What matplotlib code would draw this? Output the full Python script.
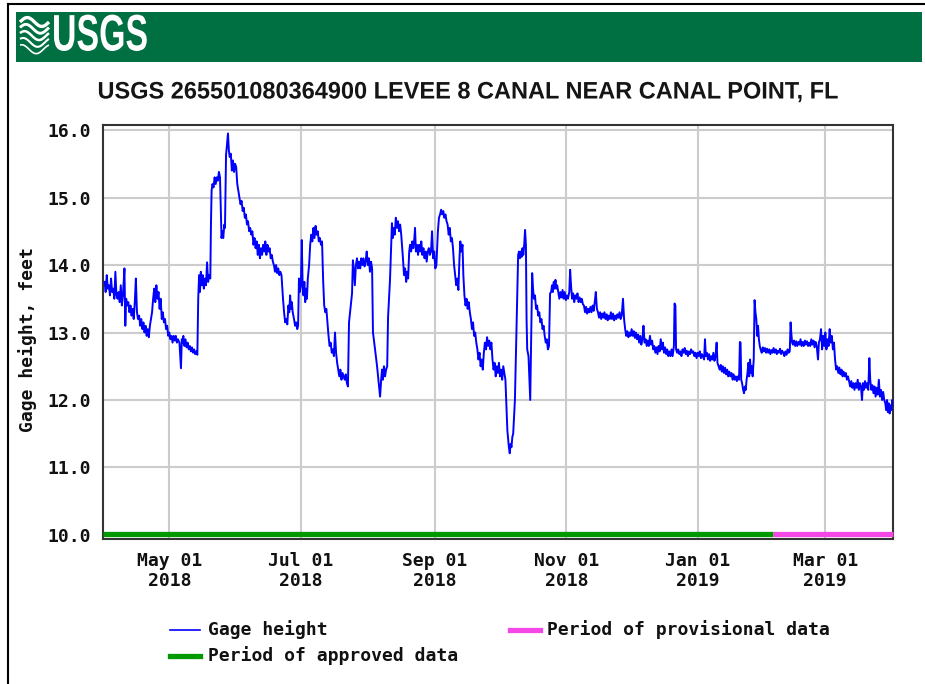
import matplotlib
matplotlib.use("Agg")
import matplotlib.pyplot as plt
from matplotlib.lines import Line2D
from matplotlib.patches import Rectangle
from matplotlib.patheffects import AbstractPathEffect
from matplotlib.transforms import Affine2D
import numpy as np
import pandas as pd

# ---------------- data ----------------
start_date = "2018-04-01"
# (days since start_date, gage height in feet)
gage_points = [
    (0, 13.75), (0.5, 13.6), (1, 13.85), (1.5, 13.65), (2, 13.7), (2.5, 13.55), (3, 13.8), (3.5, 13.6),
    (4, 13.65), (4.5, 13.5), (5, 13.9), (5.5, 13.55), (6, 13.5), (6.5, 13.6), (7, 13.45), (7.5, 13.7),
    (8, 13.4), (8.5, 13.55), (9.2, 13.95), (9.6, 13.1), (10, 13.5), (10.5, 13.4), (11, 13.45), (11.5, 13.3),
    (12, 13.4), (12.5, 13.25), (13, 13.35), (13.5, 13.2), (14, 13.45), (14.5, 13.8), (15, 13.3), (15.5, 13.2),
    (16, 13.25), (16.5, 13.1), (17, 13.2), (17.5, 13.05), (18, 13.15), (18.5, 13.0), (19, 13.1), (19.5, 12.95),
    (20, 13.05), (20.5, 12.93), (21, 13.1), (22, 13.3), (22.5, 13.5), (23, 13.65), (23.5, 13.45), (24, 13.7),
    (24.5, 13.5), (25, 13.6), (25.5, 13.35), (26, 13.5), (26.5, 13.2), (27, 13.3), (27.5, 13.15), (28, 13.2),
    (28.5, 13.05), (29, 13.1), (29.5, 12.95), (30, 13.0), (30.5, 12.9), (31, 12.95), (31.5, 12.85), (32, 12.95),
    (32.5, 12.88), (33, 12.95), (33.5, 12.85), (34, 12.9), (34.7, 12.85), (35.4, 12.47), (35.8, 12.9), (36, 12.85),
    (36.5, 12.95), (37, 12.8), (37.5, 12.9), (38, 12.78), (38.5, 12.85), (39, 12.75), (39.5, 12.8), (40, 12.72),
    (40.5, 12.78), (41, 12.7), (41.5, 12.75), (42, 12.68), (42.5, 12.72), (43, 12.67), (43.4, 13.5), (43.8, 13.85),
    (44.2, 13.6), (44.6, 13.9), (45, 13.7), (45.5, 13.85), (46, 13.65), (46.5, 13.8), (47, 13.7), (47.5, 14.04),
    (48, 13.75), (48.5, 13.85), (49, 13.8), (49.3, 14.6), (49.6, 15.1), (50, 15.2), (50.5, 15.15), (51, 15.3),
    (51.5, 15.2), (52, 15.3), (52.5, 15.25), (53, 15.38), (53.5, 15.3), (53.9, 14.8), (54.2, 14.4), (54.6, 14.5),
    (55, 14.4), (55.5, 14.6), (55.8, 14.55), (56.3, 15.63), (57.2, 15.95), (57.6, 15.7), (58, 15.6), (58.5, 15.65),
    (59, 15.4), (59.5, 15.55), (60, 15.38), (60.5, 15.5), (61, 15.45), (61.5, 15.2), (62, 15.1), (62.5, 15.0),
    (63, 14.9), (63.5, 14.95), (64, 14.8), (64.5, 14.85), (65, 14.7), (65.5, 14.75), (66, 14.6), (66.5, 14.65),
    (67, 14.5), (67.5, 14.55), (68, 14.45), (68.5, 14.5), (69, 14.3), (69.5, 14.4), (70, 14.25), (70.5, 14.35),
    (71, 14.15), (71.5, 14.3), (72, 14.1), (72.5, 14.25), (73, 14.15), (73.5, 14.3), (74, 14.2), (74.5, 14.35),
    (75, 14.15), (75.5, 14.3), (76, 14.2), (76.5, 14.25), (77, 14.1), (77.5, 14.15), (78, 14.05), (78.5, 14.0),
    (79, 13.9), (79.5, 14.0), (80, 13.88), (80.5, 13.95), (81, 13.85), (81.5, 13.9), (82, 13.85), (82.7, 13.5),
    (83.2, 13.3), (83.7, 13.15), (84.2, 13.2), (84.7, 13.12), (85.2, 13.4), (85.6, 13.3), (86, 13.55), (86.4, 13.35),
    (86.8, 13.45), (87.2, 13.3), (87.8, 13.2), (88.3, 13.1), (88.8, 13.15), (89.3, 13.05), (89.7, 13.1), (90.1, 13.8),
    (90.5, 13.6), (91.0, 13.7), (91.4, 14.37), (91.8, 13.7), (92.2, 13.55), (92.6, 13.75), (93, 13.45), (93.4, 13.65),
    (93.8, 13.5), (94.2, 13.8), (94.8, 14.0), (95.3, 14.3), (95.8, 14.45), (96.3, 14.35), (96.8, 14.55), (97.3, 14.4),
    (97.8, 14.58), (98.3, 14.45), (98.8, 14.5), (99.3, 14.35), (99.8, 14.4), (100.3, 14.3), (100.8, 14.35), (101.3, 13.78),
    (101.8, 13.4), (102.3, 13.3), (102.8, 13.35), (103.3, 13.15), (103.8, 12.95), (104.3, 12.8), (104.8, 12.85), (105.3, 12.7),
    (105.8, 12.75), (106.3, 12.65), (106.8, 13.0), (107.3, 12.7), (107.8, 12.55), (108.3, 12.45), (108.8, 12.35), (109.3, 12.45),
    (109.8, 12.3), (110.3, 12.4), (110.8, 12.35), (111.3, 12.3), (111.8, 12.38), (112.3, 12.25), (112.8, 12.2), (113.3, 13.15),
    (114.7, 13.58), (115.1, 14.07), (115.5, 13.95), (116, 13.7), (116.5, 14.0), (117, 14.1), (117.5, 13.95), (118, 14.05),
    (118.5, 13.95), (119, 14.1), (119.5, 14.0), (120, 14.1), (120.5, 13.98), (121, 14.05), (121.5, 14.2), (122, 14.0),
    (122.5, 14.1), (123, 13.9), (123.5, 14.05), (124, 13.95), (124.4, 13.0), (124.8, 12.9), (126.3, 12.5), (127.7, 12.05),
    (128.2, 12.3), (128.6, 12.45), (129, 12.3), (129.5, 12.5), (130, 12.35), (130.5, 12.45), (131, 12.5), (131.4, 13.23),
    (132.3, 13.78), (133.2, 14.62), (133.6, 14.4), (134, 14.55), (134.5, 14.45), (135, 14.7), (135.5, 14.55), (136, 14.65),
    (136.5, 14.5), (137, 14.6), (137.5, 14.45), (138.3, 14.1), (138.8, 13.85), (139.3, 13.95), (139.8, 13.75), (140.3, 13.9),
    (140.7, 13.8), (141.2, 14.2), (141.6, 14.3), (142.1, 14.2), (142.6, 14.35), (143.1, 14.25), (143.6, 14.4), (143.9, 14.55),
    (144.3, 14.2), (144.8, 14.3), (145.3, 14.15), (145.8, 14.3), (146.3, 14.2), (146.8, 14.35), (147.3, 14.15), (147.8, 14.25),
    (148.3, 14.1), (148.8, 14.2), (149.3, 14.05), (149.8, 14.2), (150.3, 14.25), (150.8, 14.15), (151.3, 14.2), (151.8, 14.5),
    (152.3, 14.1), (152.8, 14.2), (153.3, 13.95), (153.8, 14.0), (154.5, 14.5), (155, 14.7), (155.5, 14.75), (156, 14.82),
    (156.5, 14.75), (157, 14.8), (157.5, 14.7), (158, 14.75), (158.5, 14.65), (159, 14.6), (159.5, 14.45), (160, 14.55),
    (160.5, 14.35), (161, 14.4), (161.5, 14.25), (162, 14.0), (162.5, 13.85), (163, 13.7), (163.5, 13.8), (164, 13.63),
    (164.5, 14.1), (164.9, 14.35), (165.4, 14.2), (165.9, 14.3), (166.3, 13.85), (166.8, 13.55), (167.3, 13.4), (167.8, 13.5),
    (168.3, 13.35), (168.8, 13.45), (169.3, 13.3), (169.8, 13.2), (170.3, 13.05), (170.8, 13.15), (171.3, 12.95), (171.8, 13.0),
    (172.3, 12.85), (172.8, 12.75), (173.3, 12.6), (173.8, 12.7), (174.3, 12.5), (174.8, 12.6), (175.3, 12.45), (175.8, 12.7),
    (176.3, 12.85), (176.8, 12.75), (177.3, 12.93), (177.8, 12.8), (178.3, 12.88), (178.8, 12.75), (179.3, 12.85), (179.8, 12.6),
    (180.3, 12.45), (180.8, 12.55), (181.3, 12.35), (181.8, 12.5), (182.3, 12.4), (182.8, 12.55), (183.3, 12.35), (183.8, 12.45),
    (184.3, 12.3), (184.8, 12.5), (185.3, 12.4), (185.8, 12.3), (186.3, 11.9), (186.7, 11.55), (187, 11.45), (187.4, 11.3),
    (187.8, 11.21), (188.2, 11.35), (188.6, 11.3), (189, 11.45), (189.4, 11.5), (190.2, 12.0), (191.2, 13.43), (191.7, 14.15),
    (192.1, 14.2), (192.5, 14.1), (192.9, 14.2), (193.3, 14.12), (193.7, 14.25), (194.1, 14.15), (194.5, 14.3), (194.9, 14.52),
    (195.3, 14.3), (195.6, 13.2), (195.9, 12.75), (196.5, 12.65), (197.3, 12.0), (197.7, 12.8), (198.2, 13.88), (198.6, 13.65),
    (199, 13.5), (199.5, 13.55), (200, 13.35), (200.5, 13.4), (201, 13.25), (201.5, 13.3), (202, 13.15), (202.5, 13.2),
    (203, 13.05), (203.5, 13.1), (204, 12.95), (204.5, 12.85), (205, 12.9), (205.5, 12.75), (206, 12.8), (206.5, 13.58),
    (207, 13.6), (207.4, 13.7), (207.8, 13.6), (208.2, 13.75), (208.6, 13.65), (209, 13.78), (209.4, 13.65), (209.8, 13.7),
    (210.3, 13.6), (210.8, 13.5), (211.3, 13.6), (211.8, 13.52), (212.3, 13.63), (212.8, 13.5), (213.3, 13.6), (213.8, 13.48),
    (214.3, 13.55), (214.8, 13.5), (215.4, 13.6), (215.8, 13.93), (216.2, 13.7), (216.7, 13.5), (217.2, 13.58), (217.7, 13.45),
    (218.2, 13.55), (218.7, 13.5), (219.2, 13.58), (219.7, 13.45), (220.2, 13.52), (220.7, 13.45), (221.2, 13.5), (221.7, 13.42),
    (222.2, 13.4), (222.7, 13.3), (223.2, 13.38), (223.7, 13.28), (224.2, 13.35), (224.7, 13.3), (225.2, 13.38), (225.7, 13.3),
    (226.2, 13.4), (226.7, 13.32), (227.2, 13.45), (227.7, 13.6), (228.2, 13.35), (228.7, 13.3), (229.2, 13.22), (229.7, 13.3),
    (230.2, 13.2), (230.7, 13.28), (231.2, 13.22), (231.7, 13.3), (232.2, 13.2), (232.7, 13.27), (233.2, 13.18), (233.7, 13.25),
    (234.2, 13.2), (234.7, 13.3), (235.2, 13.2), (235.7, 13.28), (236.2, 13.18), (236.7, 13.25), (237.2, 13.2), (237.7, 13.27),
    (238.2, 13.22), (238.7, 13.3), (239.2, 13.2), (239.7, 13.25), (240.3, 13.5), (240.8, 13.2), (241.3, 13.05), (241.8, 12.95),
    (242.3, 13.02), (242.8, 12.93), (243.3, 13.0), (243.8, 12.95), (244.3, 13.05), (244.8, 12.95), (245.3, 13.02), (245.8, 12.92),
    (246.3, 13.0), (246.8, 12.9), (247.3, 12.97), (247.8, 12.85), (248.3, 12.95), (248.8, 12.82), (249.3, 12.9), (249.8, 13.1),
    (250.3, 12.85), (250.8, 12.9), (251.3, 12.8), (251.8, 12.88), (252.3, 12.8), (252.8, 12.95), (253.3, 12.82), (253.8, 12.88),
    (254.3, 12.75), (254.8, 12.8), (255.3, 12.7), (255.8, 12.78), (256.3, 12.68), (256.8, 12.8), (257.3, 12.72), (257.8, 12.9),
    (258.3, 12.75), (258.8, 12.85), (259.3, 12.7), (259.8, 12.78), (260.3, 12.68), (260.8, 12.75), (261.3, 12.65), (261.8, 12.72),
    (262.3, 12.65), (262.8, 12.75), (263.3, 12.65), (263.9, 12.8), (264.2, 13.43), (264.6, 13.4), (264.9, 12.75), (265.4, 12.7),
    (265.9, 12.75), (266.4, 12.68), (266.9, 12.72), (267.4, 12.65), (267.9, 12.75), (268.4, 12.7), (268.9, 12.77), (269.4, 12.68),
    (269.9, 12.73), (270.4, 12.65), (270.9, 12.72), (271.4, 12.68), (271.9, 12.75), (272.4, 12.7), (272.9, 12.72), (273.4, 12.65),
    (273.9, 12.7), (274.4, 12.62), (274.9, 12.7), (275.4, 12.65), (275.9, 12.72), (276.4, 12.62), (276.9, 12.68), (277.9, 12.6),
    (278.3, 12.9), (278.7, 12.65), (279.2, 12.7), (279.7, 12.6), (280.2, 12.68), (280.7, 12.58), (281.2, 12.65), (281.7, 12.6),
    (282.2, 12.7), (282.7, 12.58), (283.2, 12.65), (283.7, 12.85), (284.1, 12.55), (284.6, 12.5), (285.1, 12.45), (285.6, 12.52),
    (286.1, 12.42), (286.6, 12.5), (287.1, 12.4), (287.6, 12.48), (288.1, 12.38), (288.6, 12.45), (289.1, 12.35), (289.6, 12.42),
    (290.1, 12.35), (290.6, 12.4), (291.1, 12.3), (291.6, 12.38), (292.1, 12.3), (292.6, 12.35), (293.1, 12.28), (293.6, 12.35),
    (294.1, 12.3), (294.5, 12.86), (294.8, 12.85), (295.1, 12.3), (295.5, 12.25), (296, 12.15), (296.4, 12.1), (296.8, 12.2),
    (297.2, 12.15), (297.6, 12.3), (298, 12.4), (298.4, 12.55), (298.8, 12.35), (299.2, 12.6), (299.6, 12.4), (300, 12.5),
    (300.4, 12.35), (300.9, 12.6), (301.3, 13.48), (301.7, 13.3), (302.1, 13.2), (302.5, 12.95), (302.9, 13.1), (303.3, 12.9),
    (303.7, 12.8), (304.1, 12.75), (304.6, 12.7), (305.1, 12.78), (305.6, 12.72), (306.1, 12.77), (306.6, 12.7), (307.1, 12.76),
    (307.6, 12.7), (308.1, 12.75), (308.6, 12.68), (309.1, 12.74), (309.6, 12.7), (310.1, 12.77), (310.6, 12.7), (311.1, 12.75),
    (311.6, 12.68), (312.1, 12.73), (312.6, 12.7), (313.1, 12.76), (313.6, 12.68), (314.1, 12.73), (314.6, 12.7), (315.1, 12.65),
    (315.6, 12.72), (316.1, 12.67), (316.6, 12.75), (317.1, 12.7), (317.6, 12.72), (318.0, 13.15), (318.3, 13.0), (318.7, 12.85),
    (319.1, 12.82), (319.6, 12.88), (320.1, 12.8), (320.6, 12.87), (321.1, 12.8), (321.6, 12.86), (322.1, 12.82), (322.6, 12.9),
    (323.1, 12.8), (323.6, 12.86), (324.1, 12.8), (324.6, 12.88), (325.1, 12.82), (325.6, 12.87), (326.1, 12.8), (326.6, 12.85),
    (327.1, 12.8), (327.6, 12.9), (328.1, 12.82), (328.6, 12.88), (329.1, 12.78), (329.6, 12.86), (330.1, 12.8), (330.7, 12.6),
    (331.1, 12.85), (331.6, 12.9), (332.1, 13.05), (332.6, 12.75), (333.1, 12.95), (333.6, 12.8), (334.1, 13.0), (334.6, 12.75),
    (335.1, 12.9), (335.6, 12.8), (336.1, 13.05), (336.6, 12.85), (337.1, 12.95), (337.6, 12.75), (338.1, 12.85), (338.6, 12.6),
    (339.1, 12.45), (339.6, 12.5), (340.1, 12.4), (340.6, 12.48), (341.1, 12.38), (341.6, 12.45), (342.1, 12.35), (342.6, 12.42),
    (343.1, 12.35), (343.6, 12.4), (344.1, 12.3), (344.6, 12.35), (345.1, 12.28), (345.6, 12.2), (346.1, 12.28), (346.6, 12.18),
    (347.1, 12.25), (347.6, 12.15), (348.1, 12.25), (348.6, 12.18), (349.1, 12.3), (349.6, 12.15), (350.1, 12.25), (350.6, 12.2),
    (351.1, 12.0), (351.5, 12.25), (352, 12.15), (352.5, 12.28), (353, 12.18), (353.5, 12.25), (354, 12.15), (354.5, 12.62),
    (354.9, 12.3), (355.4, 12.15), (355.9, 12.22), (356.4, 12.1), (356.9, 12.2), (357.4, 12.05), (357.9, 12.18), (358.4, 12.08),
    (358.9, 12.3), (359.4, 12.05), (359.9, 12.15), (360.4, 12.0), (360.9, 12.12), (361.4, 12.0), (361.9, 11.95), (362.3, 11.85),
    (362.7, 12.0), (363.1, 11.82), (363.5, 11.95), (363.9, 11.8), (364.3, 11.92), (364.7, 11.85), (365.1, 12.0), (365.5, 11.95),
]
day_offsets = [p[0] for p in gage_points]
gage_height_ft = [p[1] for p in gage_points]

approved_period = ("2018-03-31 09:00", "2019-02-05 00:00")
provisional_period = ("2019-02-05 00:00", "2019-04-01 15:00")
x_limits = ("2018-03-31 09:36", "2019-04-01 14:24")
y_ticks = [10.0, 11.0, 12.0, 13.0, 14.0, 15.0, 16.0]
x_tick_dates = ["2018-05-01", "2018-07-01", "2018-09-01", "2018-11-01", "2019-01-01", "2019-03-01"]

title_text = "USGS 265501080364900 LEVEE 8 CANAL NEAR CANAL POINT, FL"
y_label = "Gage height, feet"
legend_labels = ["Gage height", "Period of provisional data", "Period of approved data"]
logo_text = "USGS"

# ---------------- styling ----------------
W, H = 925, 684
fig = plt.figure(figsize=(W / 100, H / 100), dpi=100)
fig.patch.set_facecolor("white")
mono = "DejaVu Sans Mono"


def fx(px):
    return px / W


def fy(py):
    return 1 - py / H


class Stretch(AbstractPathEffect):
    """Scale glyph outlines about an anchor point (display coords)."""

    def __init__(self, sx, sy, anchor):
        super().__init__()
        self.sx, self.sy, self.anchor = sx, sy, anchor

    def draw_path(self, renderer, gc, tpath, affine, rgbFace=None):
        x0, y0 = self.anchor
        a = affine + Affine2D().translate(-x0, -y0).scale(self.sx, self.sy).translate(x0, y0)
        renderer.draw_path(gc, tpath, a, rgbFace)


def fitted_text(x_px, y_px, s, target_w, fontsize, ha, **kw):
    t = fig.text(fx(x_px), fy(y_px), s, fontsize=fontsize, ha=ha, va="center", **kw)
    fig.canvas.draw()
    w = t.get_window_extent().width
    anchor = fig.transFigure.transform((fx(x_px), fy(y_px)))
    t.set_path_effects([Stretch(target_w / w, 1.0, anchor)])
    return t


# outer border (top and left)
fig.add_artist(Line2D([fx(8), fx(925)], [fy(4), fy(4)], color="black", lw=1.5))
fig.add_artist(Line2D([fx(8), fx(8)], [fy(4), 0], color="black", lw=1.5))

# USGS banner
fig.add_artist(Rectangle((fx(16), fy(62)), fx(922) - fx(16), fy(12) - fy(62),
                         facecolor="#006F41", edgecolor="none"))
for k in range(5):
    xs = np.linspace(fx(20), fx(49), 30)
    ys = fy(22 + k * 6.8) + 0.0065 * np.sin((xs - fx(20)) / (fx(49) - fx(20)) * 2 * np.pi + 0.3 * k)
    fig.add_artist(Line2D(xs, ys, color="white", lw=2.4 - 0.3 * k, solid_capstyle="butt"))
fitted_text(52, 37, logo_text, 96, 37, "left", color="white", fontweight="bold",
            family="Liberation Sans")

# title
fitted_text(468, 92, title_text, 741, 17.2, "center", color="#151515", fontweight="bold",
            family="Liberation Sans")

# axes
ax = fig.add_axes([fx(103.3), fy(539), fx(893.3) - fx(103.3), fy(125) - fy(539)])
times = pd.Timestamp(start_date) + pd.to_timedelta(day_offsets, unit="D")
ax.plot(times, gage_height_ft, color="#0000FF", lw=1.4, zorder=3)

ax.plot(pd.to_datetime(list(approved_period)), [10.02, 10.02], color="#009900", lw=3.8,
        solid_capstyle="butt", clip_on=False, zorder=4)
ax.plot(pd.to_datetime(list(provisional_period)), [10.02, 10.02], color="#F347E6", lw=3.8,
        solid_capstyle="butt", clip_on=False, zorder=4)

ax.set_xlim(pd.to_datetime(list(x_limits)))
ax.set_ylim(9.94, 16.075)
ax.set_yticks(y_ticks)
ax.set_yticklabels([f"{v:.1f}" for v in y_ticks])
tick_dates = pd.to_datetime(x_tick_dates)
ax.set_xticks(tick_dates)
ax.set_xticklabels([d.strftime("%b %d\n%Y") for d in tick_dates], linespacing=1.15)

ax.grid(True, color="#CCCCCC", lw=1.5)
ax.set_axisbelow(True)
ax.tick_params(length=0, labelsize=13, pad=9)
for lab in ax.get_xticklabels() + ax.get_yticklabels():
    lab.set_family(mono)
    lab.set_fontweight("bold")
    lab.set_color("#111111")
for sp in ax.spines.values():
    sp.set_color("#333333")
    sp.set_linewidth(1.5)

fig.text(fx(28), fy(340), y_label, rotation=90, family=mono, fontweight="bold", fontsize=13,
         ha="center", va="center", color="#111111")

# legend
fig.add_artist(Line2D([fx(170), fx(200)], [fy(630), fy(630)], color="#0000FF", lw=1.2))
fig.text(fx(208), fy(630), legend_labels[0], family=mono, fontweight="bold", fontsize=13,
         ha="left", va="center", color="#111111")
fig.add_artist(Line2D([fx(510), fx(540)], [fy(630), fy(630)], color="#F347E6", lw=3.8))
fig.text(fx(547), fy(630), legend_labels[1], family=mono, fontweight="bold", fontsize=13,
         ha="left", va="center", color="#111111")
fig.add_artist(Line2D([fx(170), fx(200)], [fy(656), fy(656)], color="#009900", lw=3.8))
fig.text(fx(208), fy(656), legend_labels[2], family=mono, fontweight="bold", fontsize=13,
         ha="left", va="center", color="#111111")

fig.savefig("out.png", dpi=100)
